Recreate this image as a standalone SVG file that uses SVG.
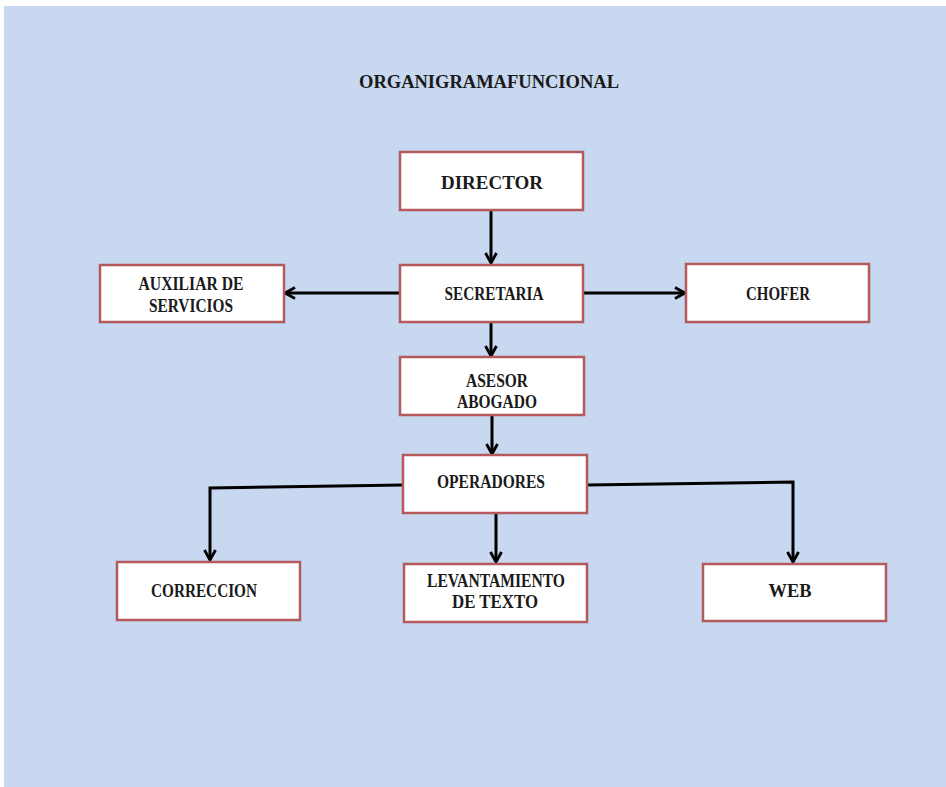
<svg xmlns="http://www.w3.org/2000/svg" width="946" height="787" viewBox="0 0 946 787">
<style>
.box{fill:#ffffff;stroke:#b45a5c;stroke-width:2.5}
.t{font-family:"Liberation Serif","Times New Roman",serif;font-weight:bold;font-size:19px;fill:#1a1a1a;text-anchor:middle}
.c{fill:none;stroke:#000;stroke-width:3}
</style>
<defs>
<marker id="ah" viewBox="0 0 14 14" refX="12" refY="7" markerWidth="14" markerHeight="14" markerUnits="userSpaceOnUse" orient="auto">
<path d="M2,1.5 L12,7 L2,12.5" fill="none" stroke="#000" stroke-width="2.8"/>
</marker>
</defs>
<rect x="0" y="0" width="946" height="787" fill="#ffffff"/>
<rect x="4" y="6" width="942" height="781" fill="#c7d8f0"/>
<text class="t" x="489" y="88" font-size="20" textLength="260" lengthAdjust="spacingAndGlyphs">ORGANIGRAMAFUNCIONAL</text>
<g id="connectors">
<path class="c" d="M491,210 L491,263" marker-end="url(#ah)"/>
<path class="c" d="M400,293 L285,293" marker-end="url(#ah)"/>
<path class="c" d="M583,293 L685,293" marker-end="url(#ah)"/>
<path class="c" d="M491,322 L491,356" marker-end="url(#ah)"/>
<path class="c" d="M492,415 L492,454" marker-end="url(#ah)"/>
<path class="c" d="M403,485 L210,488 L210,560" marker-end="url(#ah)"/>
<path class="c" d="M496,513 L496,562" marker-end="url(#ah)"/>
<path class="c" d="M587,485 L793,482 L793,562" marker-end="url(#ah)"/>
</g>
<g id="director">
<rect class="box" x="400" y="152" width="183" height="58"/>
<text class="t" x="492" y="189" font-size="21" textLength="102" lengthAdjust="spacingAndGlyphs">DIRECTOR</text>
</g>
<g id="secretaria">
<rect class="box" x="400" y="265" width="183" height="57"/>
<text class="t" x="494" y="300" textLength="99" lengthAdjust="spacingAndGlyphs">SECRETARIA</text>
</g>
<g id="auxiliar">
<rect class="box" x="100" y="265" width="184" height="57"/>
<text class="t" x="191" y="290" textLength="105" lengthAdjust="spacingAndGlyphs">AUXILIAR DE</text>
<text class="t" x="191" y="312" textLength="84" lengthAdjust="spacingAndGlyphs">SERVICIOS</text>
</g>
<g id="chofer">
<rect class="box" x="686" y="264" width="183" height="58"/>
<text class="t" x="778" y="300" textLength="64" lengthAdjust="spacingAndGlyphs">CHOFER</text>
</g>
<g id="asesor">
<rect class="box" x="400" y="357" width="184" height="58"/>
<text class="t" x="497" y="387" textLength="62" lengthAdjust="spacingAndGlyphs">ASESOR</text>
<text class="t" x="497" y="408" textLength="80" lengthAdjust="spacingAndGlyphs">ABOGADO</text>
</g>
<g id="operadores">
<rect class="box" x="403" y="455" width="184" height="58"/>
<text class="t" x="491" y="488" textLength="108" lengthAdjust="spacingAndGlyphs">OPERADORES</text>
</g>
<g id="correccion">
<rect class="box" x="117" y="562" width="183" height="58"/>
<text class="t" x="204" y="597" textLength="106" lengthAdjust="spacingAndGlyphs">CORRECCION</text>
</g>
<g id="levantamiento">
<rect class="box" x="404" y="564" width="183" height="58"/>
<text class="t" x="496" y="587" textLength="138" lengthAdjust="spacingAndGlyphs">LEVANTAMIENTO</text>
<text class="t" x="495" y="608" textLength="86" lengthAdjust="spacingAndGlyphs">DE TEXTO</text>
</g>
<g id="web">
<rect class="box" x="703" y="564" width="183" height="57"/>
<text class="t" x="790" y="597" textLength="43" lengthAdjust="spacingAndGlyphs">WEB</text>
</g>
</svg>
